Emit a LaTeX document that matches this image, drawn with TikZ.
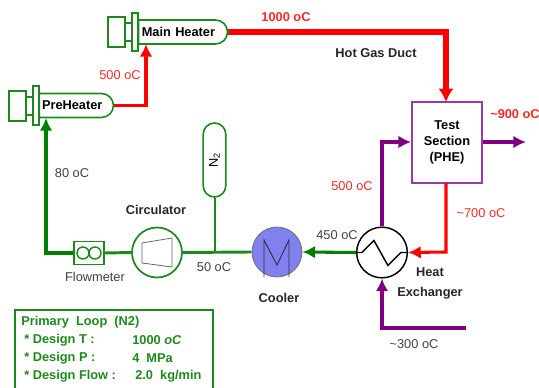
\documentclass[tikz,border=0pt]{standalone}
\usepackage{fontspec}
\setmainfont{Liberation Sans}
\usetikzlibrary{arrows.meta,shapes.misc}
\definecolor{loopgreen}{HTML}{1B8A1B}
\definecolor{flowgreen}{HTML}{008000}
\definecolor{gasred}{HTML}{FF0000}
\definecolor{testpurple}{HTML}{800080}
\definecolor{boxpurple}{HTML}{9A3AA8}
\definecolor{labelgray}{HTML}{404040}
\definecolor{coolerblue}{HTML}{8080F0}
\begin{document}
\begin{tikzpicture}[
    x=0.75pt, y=-0.75pt,
    font=\fontsize{9.6}{12}\selectfont,
    capsule/.style={rounded rectangle, draw=loopgreen, line width=1.2pt, fill=white, inner sep=0pt},
    heater/.style={capsule, rounded rectangle left arc=none, minimum height=18pt, text width=#1, align=left},
    part/.style={rectangle, draw=loopgreen, line width=1.2pt, fill=white, inner sep=0pt},
    pipe/.style={draw=loopgreen, line width=2.2pt},
    greenflow/.style={draw=flowgreen, line width=2.3pt, -{Latex[length=9.5pt,width=9.5pt]}},
    redflow/.style={draw=gasred, line width=2.3pt, -{Latex[length=9.5pt,width=9.5pt]}},
    hotflow/.style={draw=gasred, line width=4.4pt, -{Latex[length=10pt,width=11.5pt]}},
    purpleflow/.style={draw=testpurple, line width=2.3pt, -{Latex[length=9.5pt,width=9.5pt]}},
    bold/.style={font=\fontsize{9.6}{12}\selectfont\bfseries, text=black!85},
    plain/.style={text=labelgray},
    hotlabel/.style={text=gasred!85!white},
    design/.style={anchor=west, inner sep=0pt, text=loopgreen, font=\fontsize{9.6}{12}\selectfont\bfseries}
]
\path[use as bounding box, clip] (0,0) rectangle (539,388);

% heaters
\node[part, minimum width=12.8pt, minimum height=22.5pt] at (116.5,32) (mainrear) {};
\node[part, minimum width=5.2pt, minimum height=13.5pt] at (128.5,32) (mainneck) {};
\node[heater=61pt, minimum width=66.75pt] at (182.5,32) (mainbody) {\textbf{Main Heater}};
\node[part, minimum width=4.5pt, minimum height=28.5pt] at (135,32) (mainflange) {};
\node[part, minimum width=12.8pt, minimum height=22.5pt] at (17.5,106) (prerear) {};
\node[part, minimum width=5.2pt, minimum height=13.5pt] at (29.5,106) (preneck) {};
\node[heater=51pt, minimum width=55.5pt] at (76,105.5) (prebody) {\textbf{PreHeater}};
\node[part, minimum width=4.5pt, minimum height=29.25pt] at (36,105.5) (preflange) {};

% loop components
\node[part, minimum width=22.5pt, minimum height=17.25pt] at (89,253) (flowmeter) {};
\node[circle, draw=loopgreen, line width=1.1pt, minimum size=9pt, inner sep=0pt] at (83,253) (flowa) {};
\node[circle, draw=loopgreen, line width=1.1pt, minimum size=9pt, inner sep=0pt] at (95,253) (flowb) {};
\node[circle, draw=loopgreen, line width=1.3pt, fill=white, minimum size=37.5pt, inner sep=0pt] at (157,252.5) (circulator) {};
\node[capsule, rotate=90, minimum width=55.5pt, minimum height=17pt] at (214.5,160) (nitrogen) {N$_{\mathrm{2}}$};
\node[circle, draw=black!55, line width=0.6pt, fill=coolerblue, minimum size=37.5pt, inner sep=0pt] at (277,252) (cooler) {};
\node[circle, draw=black, line width=1.1pt, fill=white, minimum size=38pt, inner sep=0pt] at (382,252.5) (exchanger) {};
\node[rectangle, draw=boxpurple, line width=1.3pt, minimum width=52.5pt, minimum height=60.75pt, align=center, inner sep=0pt] at (447,142.5) (testsection) {\textbf{Test}\\\textbf{Section}\\\textbf{(PHE)}};
\node[part, fill=none, minimum width=148.5pt, minimum height=70pt, anchor=north west] at (14,309) (designbox) {};

% inner symbols
\draw[black!60, line width=0.6pt] (142,243) -- (172,238) -- (172,267) -- (142,263) -- cycle;
\draw[black!80, line width=0.7pt] (264,277) -- (264,240) -- (277,265) -- (289,240) -- (289,277);
\draw[black, line width=1.1pt] (exchanger.west) -- ++(6,0) -- ++(12,-12) -- ++(14,25) -- ++(13,-13) -- (exchanger.east);

% free line ends
\coordinate (mainin) at (146,44);
\coordinate (ductbend) at (446,32);
\coordinate (testin) at (446,102);
\coordinate (testout) at (526,142);
\coordinate (redbend) at (446,252);
\coordinate (redstart) at (446,183);
\coordinate (hotbend) at (382,142);
\coordinate (coldstart) at (466,328);
\coordinate (coldbend) at (382,328);
\coordinate (loopbend) at (46,253);
\coordinate (prein) at (46,118);
\coordinate (teejoint) at (214.5,252.5);

% connectors
\draw[pipe] (flowmeter.east) -- (circulator.west);
\draw[pipe, line width=1.5pt] (nitrogen.west) -- (teejoint);
\draw[pipe] (circulator.east) -- (cooler.west);
\draw[greenflow] (flowmeter.west) -- (loopbend) -- (prein);
\draw[greenflow] (exchanger.west) -- (cooler.east);
\draw[redflow] (prebody.east) -| (mainin);
\draw[hotflow] (mainbody.east) -- (ductbend) -- (testin);
\draw[redflow] (redstart) -- (redbend) -- (exchanger.east);
\draw[purpleflow] (exchanger.north) -- (hotbend) -- (testsection.west |- hotbend);
\draw[purpleflow] (testsection.east |- testout) -- (testout);
\draw[purpleflow] (coldstart) -- (coldbend) -- (exchanger.south);

% labels
\node[hotlabel, font=\fontsize{9.6}{12}\selectfont\bfseries] at (286,17) (ducttemp) {1000 oC};
\node[bold] at (376,53) (ductlabel) {Hot Gas Duct};
\node[hotlabel] at (120,75) (pretemp) {500 oC};
\node[plain] at (72,173) (looptemp) {80 oC};
\node[bold] at (156,210) (circlabel) {Circulator};
\node[plain] at (95,277) (flowlabel) {Flowmeter};
\node[plain] at (214,267) (teetemp) {50 oC};
\node[bold] at (279,298) (coollabel) {Cooler};
\node[plain] at (337,235) (hxtemp) {450 oC};
\node[bold, align=center] at (430,283.5) (hxlabel) {Heat\\[2.5pt]Exchanger};
\node[plain] at (414,344) (coldtemp) {\textasciitilde300 oC};
\node[hotlabel] at (352,186) (hottemp) {500 oC};
\node[hotlabel] at (481,213) (returntemp) {\textasciitilde700 oC};
\node[hotlabel, font=\fontsize{9.6}{12}\selectfont\bfseries] at (515,114) (outtemp) {\textasciitilde900 oC};

% design data
\node[design] at (21,322) (designtitle) {Primary\ \ Loop\ \ (N2)};
\node[design] at (24,340) (designt) {* Design T :};
\node[design] at (132,340) (designtval) {1000 \textit{oC}};
\node[design] at (24,358) (designp) {* Design P :};
\node[design] at (132,358) (designpval) {4\ \ MPa};
\node[design] at (24,376) (designf) {* Design Flow :};
\node[design] at (135,376) (designfval) {2.0\ \ kg/min};
\end{tikzpicture}
\end{document}
